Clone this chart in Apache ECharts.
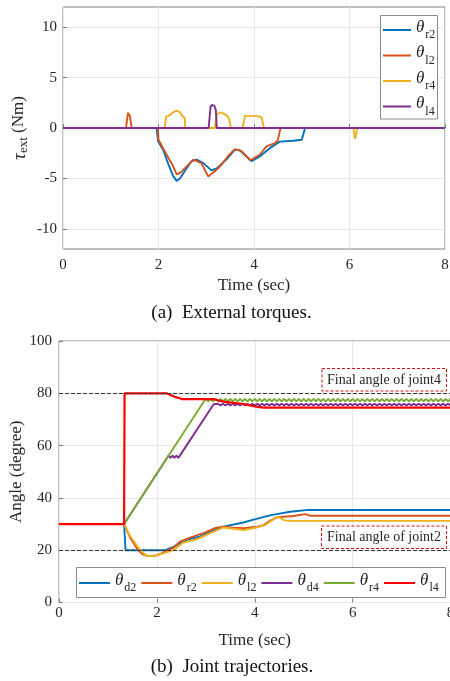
<!DOCTYPE html>
<html><head><meta charset="utf-8">
<script src="https://cdn.jsdelivr.net/npm/echarts@6/dist/echarts.min.js"></script>
<style>html,body{margin:0;padding:0;background:#fff}#c{width:450px;height:681px}</style>
</head><body><div id="c"></div>
<script>
const FONT = 'Liberation Serif';
const TXT = '#262626';

// ---------- (a) External torques ----------
const timeTicks = [0, 2, 4, 6, 8];
const torqueTicks = [-10, -5, 0, 5, 10];
const torqueNames = ['r2', 'l2', 'r4', 'l4'];
const torqueColors = ['#0072BD', '#D95319', '#EDB120', '#7E2F8E'];
const torqueR2 = [[0,0],[1.96,0],[1.99,-1.3],[2.10,-2.2],[2.20,-3.5],[2.31,-4.8],[2.38,-5.25],[2.45,-5.0],[2.59,-4.0],[2.69,-3.3],[2.80,-3.14],[2.94,-3.48],[3.11,-4.2],[3.22,-4.0],[3.43,-3.08],[3.60,-2.15],[3.70,-2.2],[3.95,-3.3],[4.12,-2.82],[4.33,-2.0],[4.54,-1.35],[4.82,-1.26],[5.00,-1.16],[5.04,-1.0],[5.07,0],[8,0]];
const torqueL2 = [[0,0],[1.32,0],[1.36,1.5],[1.40,1.2],[1.44,0],[1.99,0],[2.00,-1.16],[2.15,-2.48],[2.29,-3.64],[2.38,-4.6],[2.47,-4.4],[2.59,-3.8],[2.73,-3.14],[2.90,-3.48],[3.04,-4.8],[3.18,-4.3],[3.32,-3.64],[3.46,-2.75],[3.60,-2.1],[3.74,-2.3],[3.92,-3.2],[4.12,-2.65],[4.26,-1.82],[4.44,-1.5],[4.50,-1.2],[4.54,-0.33],[4.56,0],[8,0]];
const torqueR4 = [[0,0],[2.13,0],[2.16,1.1],[2.24,1.3],[2.32,1.6],[2.38,1.72],[2.45,1.55],[2.50,1.2],[2.55,1.0],[2.56,0],[3.18,0],[3.22,1.3],[3.28,1.55],[3.36,1.45],[3.44,1.2],[3.47,1.0],[3.52,0],[3.76,0],[3.81,1.2],[3.95,1.2],[4.10,1.15],[4.16,1.05],[4.21,0],[6.08,0],[6.12,-1.1],[6.16,0],[8,0]];
const torqueL4 = [[0,0],[3.05,0],[3.09,2.1],[3.12,2.3],[3.17,2.2],[3.20,1.8],[3.22,0],[8,0]];
const torqueData = [torqueR2, torqueL2, torqueR4, torqueL4];

// ---------- (b) Joint trajectories ----------
const angleTicks = [0, 20, 40, 60, 80, 100];
const refAngles = [20, 80];
const angleNames = ['d2', 'r2', 'l2', 'd4', 'r4', 'l4'];
const angleColors = ['#0072BD', '#D95319', '#EDB120', '#7E2F8E', '#77AC30', '#FF0000'];
const angleD2 = [[0,30],[1.33,30],[1.36,20],[2.17,20],[2.34,21.3],[2.47,22.6],[2.61,24.0],[2.88,25.2],[3.02,26.4],[3.36,29],[3.77,30.6],[3.90,31.3],[4.31,33.3],[4.45,33.8],[4.72,34.7],[5.10,35.4],[8,35.4]];
const angleR2 = [[0,30],[1.33,30],[1.45,25],[1.60,20.5],[1.70,18.5],[1.80,17.8],[1.95,17.8],[2.10,18.8],[2.34,21],[2.47,23.3],[2.68,24.8],[2.95,26.5],[3.20,28.5],[3.36,29.0],[3.55,28.6],[3.77,28.4],[4.05,29.0],[4.18,29.6],[4.28,30.9],[4.45,32.6],[4.79,33.1],[5.03,33.8],[5.13,33.2],[8,33.2]];
const angleL2 = [[0,30],[1.33,30],[1.45,25.5],[1.66,20],[1.79,17.8],[1.93,17.8],[2.13,18.8],[2.34,20],[2.54,22.9],[2.82,24.2],[3.09,26.5],[3.36,28.7],[3.55,28.2],[3.77,27.7],[4.04,28.7],[4.21,29.6],[4.31,30.9],[4.48,32.8],[4.59,31.5],[4.70,31.2],[8,31.2]];
const angleD4 = [[0,30],[1.33,30],[2.24,56.2],[2.28,55.3],[2.32,56.2],[2.36,55.3],[2.40,56.2],[2.44,55.3],[2.47,55.3],[3.16,75.8],
[3.20,75.4],[3.25,76.0],[3.30,75.4],[3.35,76.0],[3.40,75.4],[3.45,76.0],[3.50,75.4],[3.55,76.0],[3.60,75.4],[3.65,76.0],
[3.70,75.4],[3.75,76.0],[3.80,75.4],[3.85,76.0],[3.90,75.4],[3.95,76.0],[4.00,75.4],[4.05,76.0],[4.10,75.4],[4.15,76.0],
[4.20,75.4],[4.25,76.0],[4.30,75.4],[4.35,76.0],[4.40,75.4],[4.45,76.0],[4.50,75.4],[4.55,76.0],[4.60,75.4],[4.65,76.0],
[4.70,75.4],[4.75,76.0],[4.80,75.4],[4.85,76.0],[4.90,75.4],[4.95,76.0],[5.00,75.4],[5.05,76.0],[5.10,75.4],[5.15,76.0],
[5.20,75.4],[5.25,76.0],[5.30,75.4],[5.35,76.0],[5.40,75.4],[5.45,76.0],[5.50,75.4],[5.55,76.0],[5.60,75.4],[5.65,76.0],
[5.70,75.4],[5.75,76.0],[5.80,75.4],[5.85,76.0],[5.90,75.4],[5.95,76.0],[6.00,75.4],[6.05,76.0],[6.10,75.4],[6.15,76.0],
[6.20,75.4],[6.25,76.0],[6.30,75.4],[6.35,76.0],[6.40,75.4],[6.45,76.0],[6.50,75.4],[6.55,76.0],[6.60,75.4],[6.65,76.0],
[6.70,75.4],[6.75,76.0],[6.80,75.4],[6.85,76.0],[6.90,75.4],[6.95,76.0],[7.00,75.4],[7.05,76.0],[7.10,75.4],[7.15,76.0],
[7.20,75.4],[7.25,76.0],[7.30,75.4],[7.35,76.0],[7.40,75.4],[7.45,76.0],[7.50,75.4],[7.55,76.0],[7.60,75.4],[7.65,76.0],
[7.70,75.4],[7.75,76.0],[7.80,75.4],[7.85,76.0],[7.90,75.4],[7.95,76.0],[8.00,75.4]];
const angleR4 = [[0,30],[1.33,30],[3.00,78.0],
[3.05,76.9],[3.10,77.9],[3.15,76.9],[3.20,77.9],[3.25,76.9],[3.30,77.9],[3.35,76.9],[3.40,77.9],[3.45,76.9],[3.50,77.9],
[3.55,76.9],[3.60,77.9],[3.65,76.9],[3.70,77.9],[3.75,76.9],[3.80,77.9],[3.85,76.9],[3.90,77.9],[3.95,76.9],[4.00,77.9],
[4.05,76.9],[4.10,77.9],[4.15,76.9],[4.20,77.9],[4.25,76.9],[4.30,77.9],[4.35,76.9],[4.40,77.9],[4.45,76.9],[4.50,77.9],
[4.55,76.9],[4.60,77.9],[4.65,76.9],[4.70,77.9],[4.75,76.9],[4.80,77.9],[4.85,76.9],[4.90,77.9],[4.95,76.9],[5.00,77.9],
[5.05,76.9],[5.10,77.9],[5.15,76.9],[5.20,77.9],[5.25,76.9],[5.30,77.9],[5.35,76.9],[5.40,77.9],[5.45,76.9],[5.50,77.9],
[5.55,76.9],[5.60,77.9],[5.65,76.9],[5.70,77.9],[5.75,76.9],[5.80,77.9],[5.85,76.9],[5.90,77.9],[5.95,76.9],[6.00,77.9],
[6.05,76.9],[6.10,77.9],[6.15,76.9],[6.20,77.9],[6.25,76.9],[6.30,77.9],[6.35,76.9],[6.40,77.9],[6.45,76.9],[6.50,77.9],
[6.55,76.9],[6.60,77.9],[6.65,76.9],[6.70,77.9],[6.75,76.9],[6.80,77.9],[6.85,76.9],[6.90,77.9],[6.95,76.9],[7.00,77.9],
[7.05,76.9],[7.10,77.9],[7.15,76.9],[7.20,77.9],[7.25,76.9],[7.30,77.9],[7.35,76.9],[7.40,77.9],[7.45,76.9],[7.50,77.9],
[7.55,76.9],[7.60,77.9],[7.65,76.9],[7.70,77.9],[7.75,76.9],[7.80,77.9],[7.85,76.9],[7.90,77.9],[7.95,76.9],[8.00,77.9]];
const angleL4 = [[0,30],[1.33,30],[1.34,80],[2.20,80],[2.35,78.8],[2.51,77.8],[3.15,77.8],[3.36,76.8],[3.77,75.9],[4.00,75.0],[4.18,74.5],[8,74.5]];
const angleData = [angleD2, angleR2, angleL2, angleD4, angleR4, angleL4];
const annotations = ['Final angle of joint4', 'Final angle of joint2'];

const chart = echarts.init(document.getElementById('c'), null, {renderer: 'canvas'});

const subRich = {
  t: {fontFamily: FONT, fontStyle: 'italic', fontSize: 17, lineHeight: 22, verticalAlign: 'top', color: TXT},
  s: {fontFamily: FONT, fontSize: 12, lineHeight: 12, padding: [12, 0, 0, 1], verticalAlign: 'bottom', color: TXT}
};
const legendFmt = n => '{t|θ}{s|' + n.split(':')[1] + '}';
const tickLabel = {fontFamily: FONT, fontSize: 15, color: TXT};
const splitLine = {show: true, lineStyle: {color: '#e8e8e8', width: 1}};
const axisTick = {show: true, inside: true, length: 4, lineStyle: {color: '#808080'}};

const series = [];
torqueData.forEach((d, i) => series.push({
  name: 'a:' + torqueNames[i], type: 'line', xAxisIndex: 0, yAxisIndex: 0, data: d,
  symbol: 'none', animation: false, lineStyle: {color: torqueColors[i], width: 1.9}, itemStyle: {color: torqueColors[i]}
}));
angleData.forEach((d, i) => series.push({
  name: 'b:' + angleNames[i], type: 'line', xAxisIndex: 1, yAxisIndex: 1, data: d,
  symbol: 'none', animation: false,
  lineStyle: {color: angleColors[i], width: i === 5 ? 2.2 : 1.9}, itemStyle: {color: angleColors[i]},
  markLine: i === 5 ? {
    silent: true, symbol: 'none', animation: false, label: {show: false}, z: 10,
    lineStyle: {type: [4, 2], color: '#333', width: 1.2},
    data: refAngles.map(v => ({yAxis: v}))
  } : undefined
}));

chart.setOption({
  backgroundColor: '#fff',
  animation: false,
  grid: [
    {left: 63, top: 7, width: 382, height: 242, show: true, borderColor: '#808080', borderWidth: 1, outerBoundsMode: 'none', containLabel: false},
    {left: 59, top: 341, width: 391.5, height: 261.5, show: true, borderColor: '#808080', borderWidth: 1, outerBoundsMode: 'none', containLabel: false}
  ],
  xAxis: [
    {gridIndex: 0, type: 'value', min: 0, max: 8, interval: 2,
     axisLine: {show: false}, axisTick, splitLine,
     axisLabel: Object.assign({margin: 9, customValues: timeTicks}, tickLabel),
     name: 'Time (sec)', nameLocation: 'middle', nameGap: 28, nameMoveOverlap: false,
     nameTextStyle: {fontFamily: FONT, fontSize: 17, color: TXT}},
    {gridIndex: 1, type: 'value', min: 0, max: 8, interval: 2,
     axisLine: {show: false}, axisTick, splitLine,
     axisLabel: Object.assign({margin: 3, customValues: timeTicks}, tickLabel),
     name: 'Time (sec)', nameLocation: 'middle', nameGap: 30, nameMoveOverlap: false,
     nameTextStyle: {fontFamily: FONT, fontSize: 17, color: TXT}}
  ],
  yAxis: [
    {gridIndex: 0, type: 'value', min: -12, max: 12,
     axisLine: {show: false},
     axisTick: Object.assign({customValues: torqueTicks}, axisTick), splitLine,
     axisLabel: Object.assign({margin: 6, customValues: torqueTicks}, tickLabel),
     name: '{t|τ}{s|ext}{n| (Nm)}', nameLocation: 'middle', nameGap: 33, nameMoveOverlap: false,
     nameTextStyle: {rich: {
       t: {fontFamily: FONT, fontStyle: 'italic', fontSize: 19, lineHeight: 20, verticalAlign: 'top', color: TXT},
       s: {fontFamily: FONT, fontSize: 13, lineHeight: 13, padding: [11, 0, 0, 0], verticalAlign: 'bottom', color: TXT},
       n: {fontFamily: FONT, fontSize: 17, lineHeight: 20, verticalAlign: 'top', color: TXT}
     }}},
    {gridIndex: 1, type: 'value', min: 0, max: 100, interval: 20,
     axisLine: {show: false}, axisTick, splitLine,
     axisLabel: Object.assign({margin: 7, customValues: angleTicks}, tickLabel),
     name: 'Angle (degree)', nameLocation: 'middle', nameGap: 34, nameMoveOverlap: false,
     nameTextStyle: {fontFamily: FONT, fontSize: 17, color: TXT}}
  ],
  legend: [
    {data: torqueNames.map(n => 'a:' + n), orient: 'vertical', left: 383, top: 17,
     icon: 'rect', itemWidth: 28, itemHeight: 2, itemGap: 1.5, padding: 0, selectedMode: false,
     formatter: legendFmt, textStyle: {rich: subRich}},
    {data: angleNames.map(n => 'b:' + n), orient: 'horizontal', left: 79, top: 570, width: 420,
     icon: 'rect', itemWidth: 31, itemHeight: 2, itemGap: 5, padding: 0, selectedMode: false,
     formatter: legendFmt, textStyle: {rich: subRich}}
  ],
  graphic: [
    {type: 'rect', z: 3, shape: {x: 380.5, y: 15.5, width: 57, height: 103.5}, style: {fill: '#fff', stroke: '#8a8a8a', lineWidth: 1}},
    {type: 'rect', z: 3, shape: {x: 76.5, y: 567.5, width: 369, height: 30}, style: {fill: '#fff', stroke: '#8a8a8a', lineWidth: 1}},
    {type: 'rect', z: 3, shape: {x: 322, y: 368.5, width: 124.5, height: 22.5}, style: {fill: '#fff', stroke: '#d01010', lineWidth: 1, lineDash: [3, 2]}},
    {type: 'text', z: 4, style: {text: annotations[0], x: 384, y: 380, align: 'center', verticalAlign: 'middle', font: '14px "Liberation Serif"', fill: TXT}},
    {type: 'rect', z: 3, shape: {x: 321.5, y: 526, width: 125, height: 22.5}, style: {fill: '#fff', stroke: '#d01010', lineWidth: 1, lineDash: [3, 2]}},
    {type: 'text', z: 4, style: {text: annotations[1], x: 384, y: 537.5, align: 'center', verticalAlign: 'middle', font: '14px "Liberation Serif"', fill: TXT}},
    {type: 'text', z: 4, style: {text: '(a)  External torques.', x: 231.5, y: 313.5, align: 'center', verticalAlign: 'middle', font: '19px "Liberation Serif"', fill: '#111'}},
    {type: 'text', z: 4, style: {text: '(b)  Joint trajectories.', x: 232, y: 667.5, align: 'center', verticalAlign: 'middle', font: '19px "Liberation Serif"', fill: '#111'}}
  ],
  series
});
</script></body></html>
